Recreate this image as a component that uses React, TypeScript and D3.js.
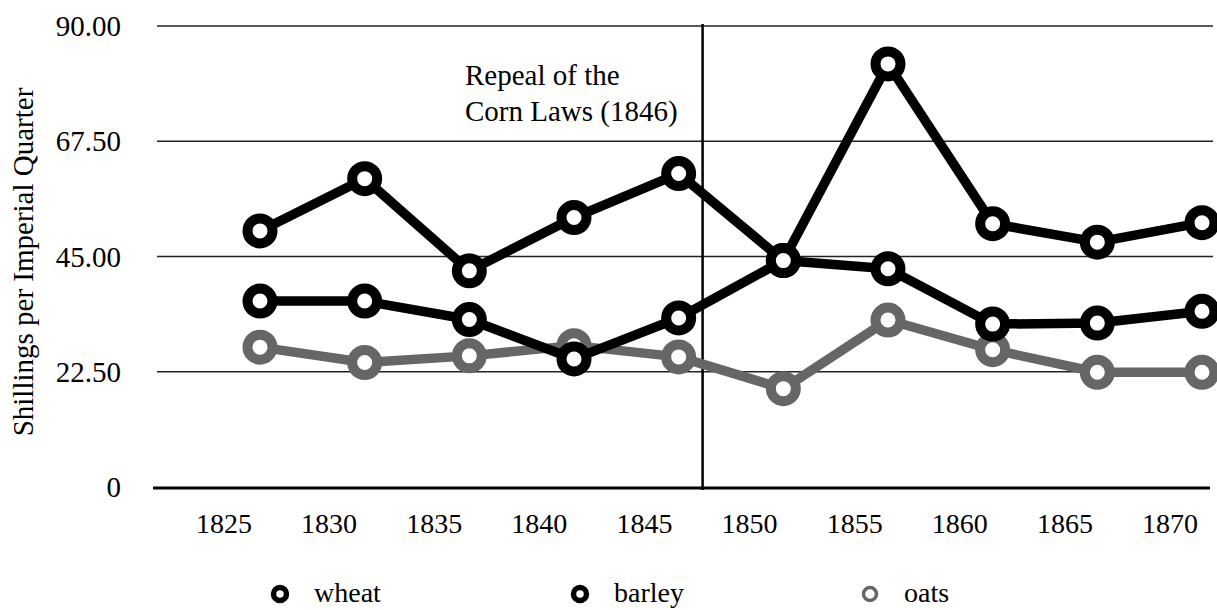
import React from 'react';
import * as d3 from 'd3';

const years = [1825, 1830, 1835, 1840, 1845, 1850, 1855, 1860, 1865, 1870];
const wheat = [50.0, 60.2, 42.2, 52.6, 61.2, 44.2, 82.6, 51.4, 47.8, 51.6];
const barley = [36.3, 36.3, 32.7, 25.0, 33.0, 44.2, 42.6, 31.8, 32.0, 34.3];
const oats = [27.3, 24.3, 25.6, 27.6, 25.4, 19.2, 32.6, 26.8, 22.4, 22.4];
const yTicks = [0, 22.5, 45, 67.5, 90];
const repealYear = 1846;

const seriesList = [
  { name: 'wheat', values: wheat, color: '#000' },
  { name: 'barley', values: barley, color: '#000' },
  { name: 'oats', values: oats, color: '#666' },
];

const width = 1217;
const height = 610;
const font = '"Liberation Serif", "Times New Roman", serif';

export default function App() {
  // label positions and point positions use slightly different ranges
  const x = d3.scaleLinear().domain([1825, 1870]).range([224, 1170]);
  const xp = d3.scaleLinear().domain([1825, 1870]).range([260, 1202]);
  const y = d3.scaleLinear().domain([0, 90]).range([487, 26]);

  const line = d3.line<number>()
    .x((_, i) => xp(years[i]))
    .y(d => y(d));

  const legendX = [280, 580, 870];

  return (
    <svg width={width} height={height} style={{ display: 'block', position: 'absolute', left: 0, top: 0 }}
      fontFamily={font}>
      <rect width={width} height={height} fill="#fff" />

      {/* grid */}
      {yTicks.filter(t => t > 0).map(t => (
        <line key={t} x1={157} x2={1213} y1={y(t)} y2={y(t)} stroke="#222" strokeWidth={1.6} />
      ))}
      {yTicks.map(t => (
        <text key={t} x={121} y={y(t)} dy="0.35em" textAnchor="end" fontSize={29}>
          {t === 0 ? '0' : d3.format('.2f')(t)}
        </text>
      ))}

      {/* x axis */}
      <line x1={153} x2={1210} y1={y(0) + 1} y2={y(0) + 1} stroke="#000" strokeWidth={3} />
      {years.map(yr => (
        <text key={yr} x={x(yr)} y={533} textAnchor="middle" fontSize={28}>{yr}</text>
      ))}

      <text transform={`translate(33,262) rotate(-90)`} textAnchor="middle" fontSize={29}>
        Shillings per Imperial Quarter
      </text>

      {/* repeal marker */}
      <line x1={xp(repealYear) + 3} x2={xp(repealYear) + 3} y1={y(90) - 2} y2={y(0) + 3} stroke="#000" strokeWidth={2.5} />
      <text x={465} y={85} fontSize={29}>Repeal of the</text>
      <text x={465} y={121} fontSize={29}>Corn Laws (1846)</text>

      {/* series */}
      {seriesList.slice().reverse().map(s => (
        <g key={s.name}>
          <path d={line(s.values) || ''} fill="none" stroke={s.color} strokeWidth={9.5} strokeLinejoin="round" />
          {s.values.map((v, i) => (
            <circle key={i} cx={xp(years[i])} cy={y(v)} r={12.5} fill="#fff" stroke={s.color} strokeWidth={10} />
          ))}
        </g>
      ))}

      {/* legend */}
      {seriesList.map((s, i) => (
        <g key={s.name} transform={`translate(${legendX[i]},${594})`}>
          <circle r={6.5} fill="#fff" stroke={s.color} strokeWidth={s.name === 'oats' ? 3.5 : 5.5} />
          <text x={34} dy="0.3em" fontSize={28}>{s.name}</text>
        </g>
      ))}
    </svg>
  );
}
